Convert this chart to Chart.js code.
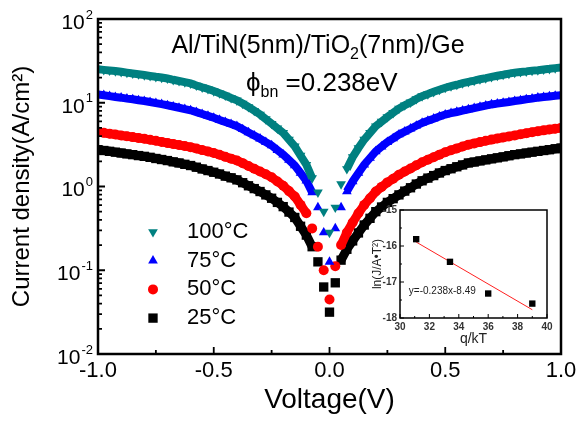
<!DOCTYPE html>
<html>
<head>
<meta charset="utf-8">
<script src="https://cdn.jsdelivr.net/npm/chart.js@4.4.0/dist/chart.umd.min.js"></script>
<style>
  html, body { margin: 0; padding: 0; background: #fff; }
  #wrap { position: relative; width: 583px; height: 422px; }
  #main { position: absolute; left: 0; top: 0; }
  #inset { position: absolute; left: 362px; top: 198px; }
</style>
</head>
<body>
<div id="wrap">
  <canvas id="main" width="583" height="422"></canvas>
  <canvas id="inset" width="196" height="152"></canvas>
</div>
<script>
// ─── DATA ────────────────────────────────────────────────────────────────────

const voltage = [
  -1, -0.975, -0.95, -0.925, -0.9, -0.875, -0.85, -0.825, -0.8, -0.775,
  -0.75, -0.725, -0.7, -0.675, -0.65, -0.625, -0.6, -0.575, -0.55, -0.525,
  -0.5, -0.475, -0.45, -0.425, -0.4, -0.375, -0.35, -0.325, -0.3, -0.275,
  -0.25, -0.225, -0.2, -0.175, -0.15, -0.125, -0.1, -0.075, -0.05, -0.025,
  0,
  0.025, 0.05, 0.075, 0.1, 0.125, 0.15, 0.175, 0.2, 0.225, 0.25,
  0.275, 0.3, 0.325, 0.35, 0.375, 0.4, 0.425, 0.45, 0.475, 0.5,
  0.525, 0.55, 0.575, 0.6, 0.625, 0.65, 0.675, 0.7, 0.725, 0.75,
  0.775, 0.8, 0.825, 0.85, 0.875, 0.9, 0.925, 0.95, 0.975, 1
];

// current density (A/cm2)
const j100 = [
  25.1, 24.7, 24.3, 23.9, 23.4, 22.9, 22.4, 21.9, 21.4, 20.9,
  20.4, 20.0, 19.5, 18.8, 18.2, 17.6, 17.0, 16.1, 15.3, 14.6,
  13.8, 13.0, 12.2, 11.4, 10.7, 9.77, 8.91, 8.04, 7.24, 6.38,
  5.62, 4.95, 4.37, 3.63, 3.02, 2.34, 1.82, 1.26, 0.851, 0.501,
  0.282,
  0.562, 1.07, 1.62, 2.24, 2.88, 3.63, 4.37, 5.25, 5.96, 6.76,
  7.59, 8.51, 9.33, 10.1, 11.1, 12.0, 12.7, 13.5, 14.3, 15.1,
  15.8, 16.4, 17.1, 17.8, 18.4, 19.1, 19.7, 20.4, 21.0, 21.6,
  22.3, 22.9, 23.3, 23.7, 24.2, 24.5, 25.0, 25.4, 25.9, 26.3
];
const j75 = [
  12.6, 12.3, 12.0, 11.7, 11.5, 11.2, 11.0, 10.7, 10.5, 10.2,
  9.89, 9.62, 9.33, 9.02, 8.71, 8.41, 8.13, 7.73, 7.33, 6.97,
  6.61, 6.24, 5.89, 5.56, 5.25, 4.82, 4.42, 4.06, 3.72, 3.39,
  3.09, 2.72, 2.40, 2.07, 1.78, 1.45, 1.17, 0.851, 0.562, 0.282,
  0.126,
  0.316, 0.562, 0.871, 1.15, 1.45, 1.82, 2.19, 2.63, 2.99, 3.39,
  3.76, 4.17, 4.52, 4.90, 5.31, 5.75, 6.10, 6.46, 6.84, 7.24,
  7.50, 7.76, 8.04, 8.32, 8.61, 8.91, 9.23, 9.55, 9.77, 10.0,
  10.2, 10.5, 10.7, 11.0, 11.2, 11.5, 11.7, 11.9, 12.1, 12.3
];
const j50 = [
  4.47, 4.37, 4.27, 4.17, 4.07, 3.98, 3.89, 3.80, 3.72, 3.61,
  3.51, 3.41, 3.31, 3.22, 3.13, 3.04, 2.95, 2.84, 2.72, 2.62,
  2.51, 2.39, 2.26, 2.15, 2.04, 1.90, 1.76, 1.63, 1.51, 1.40,
  1.29, 1.15, 1.02, 0.881, 0.759, 0.603, 0.479, 0.316, 0.191, 0.100,
  0.0447,
  0.112, 0.200, 0.282, 0.372, 0.479, 0.603, 0.724, 0.871, 0.989, 1.12,
  1.24, 1.38, 1.51, 1.64, 1.79, 1.95, 2.09, 2.24, 2.40, 2.57,
  2.71, 2.85, 3.01, 3.16, 3.27, 3.39, 3.51, 3.63, 3.74, 3.85,
  3.96, 4.07, 4.20, 4.32, 4.45, 4.57, 4.68, 4.79, 4.90, 5.01
];
const j25 = [
  2.75, 2.69, 2.63, 2.57, 2.51, 2.45, 2.40, 2.34, 2.29, 2.23,
  2.16, 2.10, 2.04, 1.97, 1.91, 1.84, 1.78, 1.70, 1.62, 1.55,
  1.48, 1.41, 1.33, 1.27, 1.20, 1.11, 1.02, 0.944, 0.871, 0.794,
  0.724, 0.646, 0.575, 0.495, 0.427, 0.335, 0.263, 0.191, 0.126, 0.0631,
  0.0316,
  0.0708, 0.132, 0.178, 0.224, 0.279, 0.347, 0.417, 0.501, 0.569, 0.646,
  0.716, 0.794, 0.881, 0.966, 1.07, 1.17, 1.26, 1.35, 1.45, 1.55,
  1.63, 1.72, 1.81, 1.91, 1.96, 2.02, 2.08, 2.14, 2.20, 2.26,
  2.33, 2.40, 2.45, 2.51, 2.57, 2.63, 2.69, 2.75, 2.82, 2.88
];

const seriesNames = ['100°C', '75°C', '50°C', '25°C'];
const seriesValues = [j100, j75, j50, j25];

// tick labels
const xMajorTicks = [-1, -0.5, 0, 0.5, 1];
const xMinorTicks = [-0.75, -0.25, 0.25, 0.75];
const yDecades = [-2, -1, 0, 1, 2];

// inset: Richardson plot
const insetQkT = [31.1, 33.4, 36.0, 39.0];
const insetLnJ = [-15.81, -16.44, -17.32, -17.6];
const fitQkT = [31.1, 39.0];
const fitLnJ = [-15.89, -17.77];
const insetXTicks = [30, 32, 34, 36, 38, 40];
const insetYTicks = [-18, -17, -16, -15];

// ─── STYLE ───────────────────────────────────────────────────────────────────

const FONT = '"Liberation Sans", Arial, sans-serif';
Chart.defaults.font.family = FONT;
Chart.defaults.color = '#000';

const SERIES_STYLE = [
  { color: '#008080', pointStyle: 'triangle', rotation: 180, radius: 5.6, band: 8 },
  { color: '#0000ff', pointStyle: 'triangle', rotation: 0, radius: 5.6, band: 8 },
  { color: '#ff0000', pointStyle: 'circle', rotation: 0, radius: 5, band: 9 },
  { color: '#000000', pointStyle: 'rect', rotation: 0, radius: 6.6, band: 9 },
];

// ─── MAIN CHART ──────────────────────────────────────────────────────────────

function drawSubText(ctx, parts, x, y, align) {
  // parts: [text, size, dy]
  let total = 0;
  parts.forEach(p => { ctx.font = p[1] + 'px ' + FONT; total += ctx.measureText(p[0]).width; });
  let cx = align === 'center' ? x - total / 2 : align === 'right' ? x - total : x;
  ctx.textAlign = 'left';
  parts.forEach(p => {
    ctx.font = p[1] + 'px ' + FONT;
    ctx.fillText(p[0], cx, y + p[2]);
    cx += ctx.measureText(p[0]).width;
  });
}

const mainDecor = {
  id: 'mainDecor',
  afterDatasetsDraw(chart) {
    const { ctx, chartArea: a, scales: { x, y } } = chart;
    ctx.save();
    ctx.strokeStyle = '#000';
    ctx.fillStyle = '#000';

    // frame
    ctx.lineWidth = 2.5;
    ctx.strokeRect(a.left, a.top, a.right - a.left, a.bottom - a.top);

    // inward ticks
    ctx.lineWidth = 1.8;
    ctx.beginPath();
    xMajorTicks.forEach(v => {
      const px = x.getPixelForValue(v);
      ctx.moveTo(px, a.bottom); ctx.lineTo(px, a.bottom - 7);
    });
    xMinorTicks.forEach(v => {
      const px = x.getPixelForValue(v);
      ctx.moveTo(px, a.bottom); ctx.lineTo(px, a.bottom - 4);
    });
    yDecades.forEach(d => {
      const py = y.getPixelForValue(Math.pow(10, d));
      ctx.moveTo(a.left, py); ctx.lineTo(a.left + 7, py);
      if (d < 2) {
        for (let k = 2; k <= 9; k++) {
          const pm = y.getPixelForValue(k * Math.pow(10, d));
          ctx.moveTo(a.left, pm); ctx.lineTo(a.left + 4, pm);
        }
      }
    });
    ctx.stroke();

    // y tick labels 10^n
    ctx.textBaseline = 'middle';
    yDecades.forEach(d => {
      const py = y.getPixelForValue(Math.pow(10, d));
      ctx.font = '13px ' + FONT;
      const ew = ctx.measureText(String(d)).width;
      ctx.textAlign = 'right';
      ctx.fillText(String(d), 93, py - 4);
      ctx.font = '21px ' + FONT;
      ctx.fillText('10', 93 - ew - 1, py + 4);
    });

    // annotation text
    ctx.textBaseline = 'alphabetic';
    drawSubText(ctx, [['Al/TiN(5nm)/TiO', 25, 0], ['2', 16, 6], ['(7nm)/Ge', 25, 0]], 318, 53, 'center');
    drawSubText(ctx, [['\u03d5', 26, 0], ['bn', 16, 6], [' =0.238eV', 26, 0]], 246, 91, 'left');

    // legend
    ctx.textBaseline = 'middle';
    seriesNames.forEach((name, i) => {
      const st = SERIES_STYLE[i];
      const ly = 232 + i * 28.7;
      ctx.fillStyle = st.color;
      Chart.helpers.drawPoint(ctx, {
        pointStyle: st.pointStyle, rotation: st.rotation, radius: st.radius, borderWidth: 0
      }, 153, ly);
      ctx.fillStyle = '#000';
      ctx.font = '22px ' + FONT;
      ctx.textAlign = 'left';
      ctx.fillText(name, 187, ly);
    });

    ctx.restore();
  }
};

// dense markers merge into a solid band; hide the joining stroke where points spread apart
function bandColor(color) {
  return c => Math.hypot(c.p1.x - c.p0.x, c.p1.y - c.p0.y) > 15 ? 'rgba(0,0,0,0)' : color;
}

new Chart(document.getElementById('main'), {
  type: 'scatter',
  data: {
    datasets: seriesValues.map((vals, i) => ({
      label: seriesNames[i],
      data: voltage.map((v, k) => ({ x: v, y: vals[k] })),
      backgroundColor: SERIES_STYLE[i].color,
      borderColor: SERIES_STYLE[i].color,
      borderWidth: SERIES_STYLE[i].band,
      pointBorderWidth: 0,
      pointStyle: SERIES_STYLE[i].pointStyle,
      rotation: SERIES_STYLE[i].rotation,
      pointRadius: SERIES_STYLE[i].radius,
      showLine: true,
      segment: { borderColor: bandColor(SERIES_STYLE[i].color) },
    }))
  },
  options: {
    responsive: false,
    animation: false,
    layout: { padding: { left: 0, right: 22, top: 19, bottom: 0 } },
    plugins: { legend: { display: false }, tooltip: { enabled: false } },
    scales: {
      x: {
        type: 'linear', min: -1, max: 1,
        grid: { display: false, drawTicks: false },
        border: { display: false },
        ticks: {
          stepSize: 0.5, autoSkip: false, maxRotation: 0, padding: 4,
          font: { size: 22 }, color: '#000',
          callback: v => Number(v).toFixed(1),
        },
        title: { display: true, text: 'Voltage(V)', font: { size: 28 }, color: '#000', padding: { top: 0, bottom: 5 } },
        afterFit: s => { s.height = 68; },
      },
      y: {
        type: 'logarithmic', min: 0.01, max: 100,
        grid: { display: false, drawTicks: false },
        border: { display: false },
        ticks: { display: false },
        title: { display: true, text: 'Current density(A/cm²)', font: { size: 24 }, color: '#000', padding: { top: 8, bottom: 0 } },
        afterFit: s => { s.width = 98; },
      }
    }
  },
  plugins: [mainDecor]
});

// ─── INSET CHART ─────────────────────────────────────────────────────────────

const insetDecor = {
  id: 'insetDecor',
  afterDatasetsDraw(chart) {
    const { ctx, chartArea: a, scales: { x, y } } = chart;
    ctx.save();
    ctx.strokeStyle = '#000';
    ctx.lineWidth = 1.5;
    ctx.strokeRect(a.left, a.top, a.right - a.left, a.bottom - a.top);
    ctx.lineWidth = 1;
    ctx.beginPath();
    for (let v = 30; v <= 40; v++) {
      const px = x.getPixelForValue(v);
      const len = v % 2 === 0 ? 4 : 2;
      ctx.moveTo(px, a.bottom); ctx.lineTo(px, a.bottom - len);
    }
    for (let v = -18; v <= -15; v += 0.5) {
      const py = y.getPixelForValue(v);
      const len = Number.isInteger(v) ? 4 : 2;
      ctx.moveTo(a.left, py); ctx.lineTo(a.left + len, py);
    }
    ctx.stroke();

    ctx.fillStyle = '#222';
    ctx.font = '10px ' + FONT;
    ctx.textAlign = 'left';
    ctx.textBaseline = 'middle';
    ctx.fillText('y=-0.238x-8.49', x.getPixelForValue(30.6), y.getPixelForValue(-17.25));
    ctx.restore();
  }
};

new Chart(document.getElementById('inset'), {
  type: 'scatter',
  data: {
    datasets: [
      {
        data: insetQkT.map((v, i) => ({ x: v, y: insetLnJ[i] })),
        backgroundColor: '#000',
        borderWidth: 0,
        pointStyle: 'rect',
        pointRadius: 4.5,
        showLine: false,
      },
      {
        data: fitQkT.map((v, i) => ({ x: v, y: fitLnJ[i] })),
        borderColor: '#ff2020',
        borderWidth: 1,
        pointRadius: 0,
        showLine: true,
      }
    ]
  },
  options: {
    responsive: false,
    animation: false,
    layout: { padding: { left: 0, right: 11, top: 12, bottom: 0 } },
    plugins: { legend: { display: false }, tooltip: { enabled: false } },
    scales: {
      x: {
        type: 'linear', min: 30, max: 40,
        grid: { display: false, drawTicks: false },
        border: { display: false },
        afterBuildTicks: s => { s.ticks = insetXTicks.map(v => ({ value: v })); },
        ticks: { font: { size: 10, weight: 'bold' }, color: '#333', padding: 3, maxRotation: 0, autoSkip: false },
        title: { display: true, text: 'q/kT', font: { size: 14 }, color: '#222', padding: { top: 0, bottom: 2 } },
        afterFit: s => { s.height = 32; },
      },
      y: {
        type: 'linear', min: -18, max: -15,
        grid: { display: false, drawTicks: false },
        border: { display: false },
        afterBuildTicks: s => { s.ticks = insetYTicks.map(v => ({ value: v })); },
        ticks: { font: { size: 10, weight: 'bold' }, color: '#333', padding: 3 },
        title: { display: true, text: 'ln(J/A•T²)', font: { size: 12 }, color: '#222', padding: { top: 8, bottom: 0 } },
        afterFit: s => { s.width = 38; },
      }
    }
  },
  plugins: [insetDecor]
});
</script>
</body>
</html>
